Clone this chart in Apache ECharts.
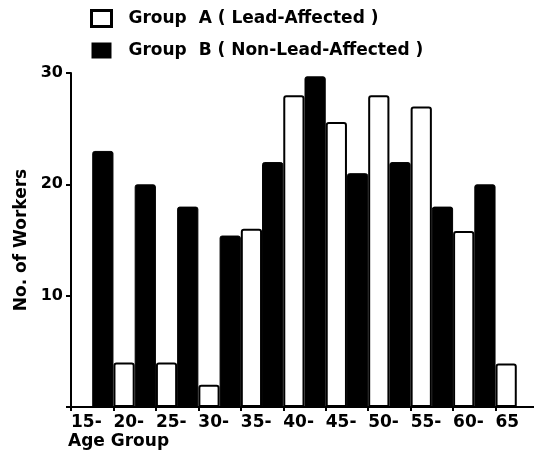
<!DOCTYPE html>
<html>
<head>
<meta charset="utf-8">
<script src="https://cdn.jsdelivr.net/npm/echarts@6/dist/echarts.min.js"></script>
<style>html,body{margin:0;padding:0;background:#fff}#c{width:534px;height:456px}</style>
</head>
<body>
<div id="c"></div>
<script>
var categories = ['15-', '20-', '25-', '30-', '35-', '40-', '45-', '50-', '55-', '60-', '65'];
var tickLabels = ['15-', '20-', '25-', '30-', '35-', '40-', '45-', '50-', '55-', '60-', '65', ''];
var groupA = [0, 4, 4, 2, 16, 28, 25.6, 28, 27, 15.8, 3.9];
var groupB = [23, 20, 18, 15.4, 22, 29.7, 21, 22, 18, 20, 0];
var nameA = 'Group  A ( Lead-Affected )';
var nameB = 'Group  B ( Non-Lead-Affected )';

var FONT = 'DejaVu Sans';
var chart = echarts.init(document.getElementById('c'));
chart.setOption({
  backgroundColor: '#fff',
  animation: false,
  title: {
    text: 'Age Group', left: 68, top: 433, padding: 0,
    textStyle: {fontFamily: FONT, fontWeight: 'bold', fontSize: 17, color: '#000'}
  },
  legend: {
    orient: 'vertical', left: 90, top: 9, padding: 0,
    itemWidth: 20, itemHeight: 16, itemGap: 14,
    textStyle: {fontFamily: FONT, fontWeight: 'bold', fontSize: 17, color: '#000', padding: [0, 0, 0, 12]},
    data: [
      {name: nameA, icon: 'rect', itemStyle: {color: '#fff', borderColor: '#000', borderWidth: 3}},
      {name: nameB, icon: 'rect', itemStyle: {color: '#000', borderColor: '#000', borderWidth: 0}}
    ]
  },
  grid: {left: 71, width: 467, top: 73, bottom: 49, containLabel: false, outerBoundsMode: 'none'},
  xAxis: [{
    type: 'category', data: categories, boundaryGap: true,
    axisLine: {lineStyle: {color: '#000', width: 2}},
    axisTick: {show: true, length: 4, lineStyle: {color: '#000', width: 2}},
    axisLabel: {show: false}
  }, {
    type: 'category', data: tickLabels, boundaryGap: false, position: 'bottom',
    axisLine: {show: false}, axisTick: {show: false},
    axisLabel: {interval: 0, align: 'left', margin: 7,
      fontFamily: FONT, fontWeight: 'bold', fontSize: 17, color: '#000'}
  }],
  yAxis: {
    type: 'value', min: 0, max: 30, interval: 10,
    name: 'No. of Workers', nameLocation: 'middle', nameGap: 36,
    nameTextStyle: {fontFamily: FONT, fontWeight: 'bold', fontSize: 17, color: '#000'},
    axisLine: {show: true, lineStyle: {color: '#000', width: 2}},
    axisTick: {show: true, length: 5, lineStyle: {color: '#000', width: 2}},
    axisLabel: {fontFamily: FONT, fontWeight: 'bold', fontSize: 16, color: '#000', margin: 8,
      formatter: function (v) { return v === 0 ? '' : v; }},
    splitLine: {show: false}
  },
  series: [{
    name: nameA, type: 'bar', xAxisIndex: 0, data: groupA,
    barGap: '0%', barCategoryGap: '0%',
    itemStyle: {color: '#fff', borderColor: '#000', borderWidth: 2, borderRadius: [2, 2, 0, 0]}
  }, {
    name: nameB, type: 'bar', xAxisIndex: 0, data: groupB,
    barGap: '0%', barCategoryGap: '0%',
    itemStyle: {color: '#000', borderColor: '#000', borderWidth: 1, borderRadius: [2, 2, 0, 0]}
  }]
});
</script>
</body>
</html>
